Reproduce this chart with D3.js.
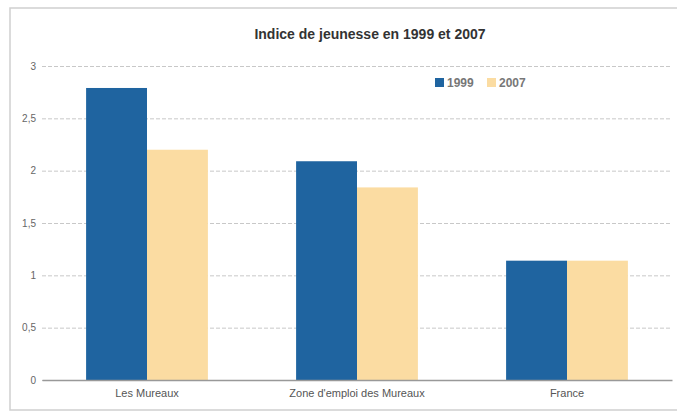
<!DOCTYPE html>
<html><head><meta charset="utf-8">
<script src="https://cdn.jsdelivr.net/npm/d3@7"></script>
<style>body{margin:0;background:#fff}svg{display:block}</style>
</head><body>
<script>
const categories = ["Les Mureaux", "Zone d'emploi des Mureaux", "France"];
const seriesNames = ["1999", "2007"];
const values1999 = [2.79, 2.09, 1.14];
const values2007 = [2.20, 1.84, 1.14];
const yTicks = [0, 0.5, 1, 1.5, 2, 2.5, 3];
const colors = ["#1f64a0", "#fbdca2"];
const title = "Indice de jeunesse  en 1999 et 2007";

const W = 677, H = 418;
const svg = d3.select("body").append("svg").attr("width", W).attr("height", H);

// frame
svg.append("rect").attr("x", 10).attr("y", 8).attr("width", 668).attr("height", 402)
  .attr("fill", "none").attr("stroke", "#cfcfcf").attr("stroke-width", 1.5);

const x0 = d3.scaleBand().domain(categories).range([42, 672]).paddingInner(0.42).paddingOuter(0.21);
const x1 = d3.scaleBand().domain(seriesNames).range([0, x0.bandwidth()]);
const y = d3.scaleLinear().domain([0, 3]).range([380, 66]);

// grid
const yAxis = d3.axisLeft(y).tickValues(yTicks).tickSize(-(672 - 42))
  .tickFormat(d => String(d).replace(".", ","));
const ga = svg.append("g").attr("transform", "translate(42,0)").call(yAxis);
ga.select(".domain").remove();
ga.selectAll(".tick line").attr("stroke", "#c8c8c8").attr("stroke-dasharray", "4,2");
ga.selectAll(".tick text").attr("x", -6).attr("fill", "#666")
  .style("font-family", "Liberation Sans, Arial, sans-serif").style("font-size", "10px");

// bars
const data = categories.map((c, i) => ({c, vals: [values1999[i], values2007[i]]}));
const groups = svg.append("g").selectAll("g").data(data).join("g")
  .attr("transform", d => `translate(${x0(d.c)},0)`);
groups.selectAll("rect").data(d => d.vals.map((v, j) => ({s: seriesNames[j], v, j})))
  .join("rect")
  .attr("x", d => x1(d.s)).attr("width", x1.bandwidth())
  .attr("y", d => y(d.v)).attr("height", d => y(0) - y(d.v))
  .attr("fill", d => colors[d.j]);

// x axis
const xa = svg.append("g").attr("transform", "translate(0,380)")
  .call(d3.axisBottom(x0).tickSize(0).tickPadding(9));
xa.select(".domain").attr("stroke", "#999").attr("stroke-width", 1.5);
xa.selectAll("text").attr("fill", "#555")
  .style("font-family", "Liberation Sans, Arial, sans-serif").style("font-size", "11px");

// title
svg.append("text").attr("x", 370).attr("y", 39).attr("text-anchor", "middle")
  .attr("fill", "#333").style("font-family", "Liberation Sans, Arial, sans-serif")
  .style("font-size", "14px").style("font-weight", "bold").text(title);

// legend
const lg = svg.append("g").attr("transform", "translate(435,78)");
const items = lg.selectAll("g").data(seriesNames).join("g")
  .attr("transform", (d, i) => `translate(${i * 52},0)`);
items.append("rect").attr("width", 9).attr("height", 9).attr("fill", (d, i) => colors[i]);
items.append("text").attr("x", 12).attr("y", 9).attr("fill", "#777")
  .style("font-family", "Liberation Sans, Arial, sans-serif").style("font-size", "12px")
  .style("font-weight", "bold").text(d => d);
</script>
</body></html>
